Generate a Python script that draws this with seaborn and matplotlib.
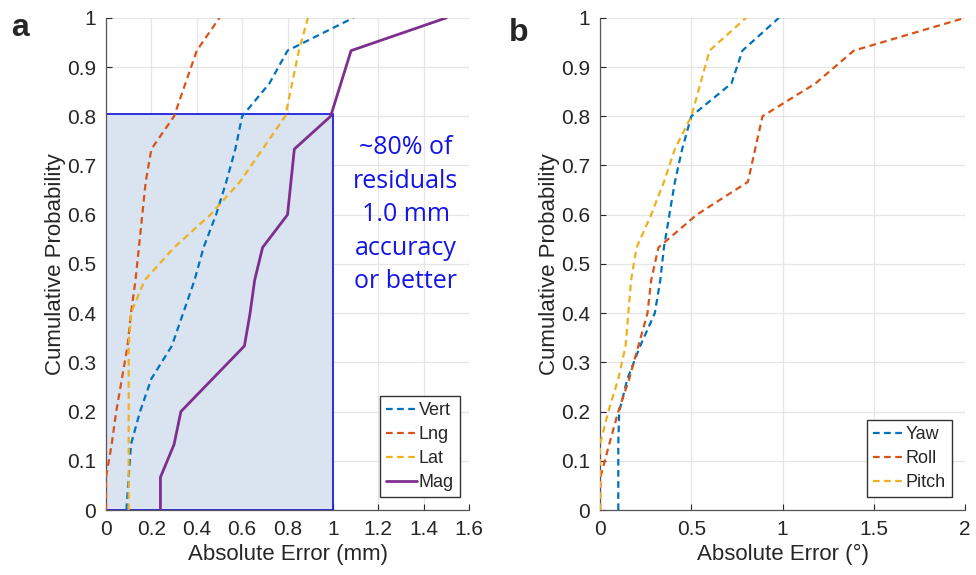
import pandas as pd
import numpy as np
import matplotlib
matplotlib.use("Agg")
import matplotlib.pyplot as plt
import matplotlib.patches as mpatches
import seaborn as sns

# cumulative probability levels (15 residuals)
prob = np.arange(16) / 15

# panel a: translation residuals (mm)
vert = [0.09, 0.10, 0.11, 0.15, 0.20, 0.29, 0.34, 0.39, 0.43, 0.485, 0.53, 0.57, 0.60, 0.72, 0.80, 1.09]
lng = [0.0, 0.0, 0.025, 0.045, 0.07, 0.095, 0.11, 0.13, 0.145, 0.16, 0.175, 0.20, 0.30, 0.35, 0.40, 0.50]
lat = [0.10, 0.10, 0.10, 0.10, 0.10, 0.10, 0.11, 0.17, 0.30, 0.46, 0.59, 0.69, 0.79, 0.82, 0.85, 0.89]
mag = [0.24, 0.24, 0.30, 0.33, 0.47, 0.61, 0.635, 0.655, 0.69, 0.80, 0.815, 0.83, 0.99, 1.035, 1.08, 1.50]

# panel b: rotation residuals (deg)
yaw = [0.10, 0.10, 0.10, 0.105, 0.15, 0.22, 0.30, 0.33, 0.35, 0.38, 0.41, 0.45, 0.50, 0.72, 0.78, 0.98]
roll = [0.0, 0.002, 0.05, 0.10, 0.16, 0.21, 0.26, 0.28, 0.32, 0.53, 0.81, 0.85, 0.89, 1.18, 1.39, 2.0]
pitch = [0.0, 0.0, 0.0, 0.045, 0.10, 0.14, 0.155, 0.17, 0.20, 0.28, 0.35, 0.41, 0.50, 0.55, 0.60, 0.80]

ticks_a = [0, 0.2, 0.4, 0.6, 0.8, 1, 1.2, 1.4, 1.6]
ticks_b = [0, 0.5, 1, 1.5, 2]
ticks_y = [0, 0.1, 0.2, 0.3, 0.4, 0.5, 0.6, 0.7, 0.8, 0.9, 1]

colors = {"Vert": "#0072BD", "Lng": "#D95319", "Lat": "#EDB120", "Mag": "#7E2F8E",
          "Yaw": "#0072BD", "Roll": "#D95319", "Pitch": "#EDB120"}
dashes = {"Vert": (3, 2), "Lng": (3, 2), "Lat": (3, 2), "Mag": "",
          "Yaw": (3, 2), "Roll": (3, 2), "Pitch": (3, 2)}


def to_long(series):
    frames = []
    for name, vals in series.items():
        frames.append(pd.DataFrame({"error": vals, "prob": prob, "series": name}))
    return pd.concat(frames, ignore_index=True)


df_a = to_long({"Vert": vert, "Lng": lng, "Lat": lat, "Mag": mag})
df_b = to_long({"Yaw": yaw, "Roll": roll, "Pitch": pitch})

sns.set_style("whitegrid")
plt.rcParams['font.family'] = ['Liberation Sans', 'DejaVu Sans']

fig = plt.figure(figsize=(9.76, 5.75), dpi=100)
ax1 = fig.add_axes([0.1086, 0.113, 0.372, 0.856])
ax2 = fig.add_axes([0.6148, 0.113, 0.374, 0.856])


def style_axes(ax, xticks, xlabel):
    ax.set_xlim(xticks[0], xticks[-1])
    ax.set_ylim(0, 1)
    ax.set_xticks(xticks)
    ax.set_xticklabels([f"{t:g}" for t in xticks])
    ax.set_yticks(ticks_y)
    ax.set_yticklabels([f"{t:g}" for t in ticks_y])
    ax.tick_params(labelsize=15, colors="#262626", length=4, direction="in",
                   bottom=True, left=True, pad=7)
    ax.grid(True, color="#e6e6e6", linewidth=0.9)
    for side in ["top", "right"]:
        ax.spines[side].set_visible(False)
    for side in ["left", "bottom"]:
        ax.spines[side].set_color("#555555")
        ax.spines[side].set_linewidth(0.9)
    ax.set_xlabel(xlabel, fontsize=16, color="#262626", labelpad=4)
    ax.set_ylabel("Cumulative Probability", fontsize=16, color="#262626", labelpad=1)


def add_legend(ax, anchor):
    leg = ax.legend(loc="lower right", fontsize=13, handlelength=1.7, handletextpad=0.1,
                    borderpad=0.35, labelspacing=0.38, fancybox=False, framealpha=1,
                    borderaxespad=0, bbox_to_anchor=anchor)
    leg.get_frame().set_edgecolor("#333333")
    leg.get_frame().set_linewidth(1.0)
    return leg


# panel a
rect = mpatches.Rectangle((0, 0), 1.0, 0.805, facecolor="#dae3f0", edgecolor="#1f1fe0",
                          linewidth=1.3, zorder=1)
ax1.add_patch(rect)
sns.lineplot(data=df_a, x="error", y="prob", hue="series", style="series",
             palette=colors, dashes=dashes, sort=False, estimator=None,
             linewidth=1.6, ax=ax1, zorder=3)
for line in ax1.lines:
    if line.get_linestyle() == "-":
        line.set_linewidth(2.0)
style_axes(ax1, ticks_a, "Absolute Error (mm)")
ax1.text(1.32, 0.6, "~80% of\nresiduals\n1.0 mm\naccuracy\nor better", color="#1414e6",
         fontsize=18, ha="center", va="center", linespacing=1.45,
         family=["Open Sans", "DejaVu Sans"])
add_legend(ax1, (0.975, 0.026))

# panel b
sns.lineplot(data=df_b, x="error", y="prob", hue="series", style="series",
             palette=colors, dashes=dashes, sort=False, estimator=None,
             linewidth=1.6, ax=ax2, zorder=3)
style_axes(ax2, ticks_b, "Absolute Error (°)")
add_legend(ax2, (0.964, 0.026))

fig.text(0.011, 0.952, "a", fontsize=23, fontweight="bold", va="center")
fig.text(0.521, 0.942, "b", fontsize=23, fontweight="bold", va="center")

fig.savefig("out.png", dpi=100)
